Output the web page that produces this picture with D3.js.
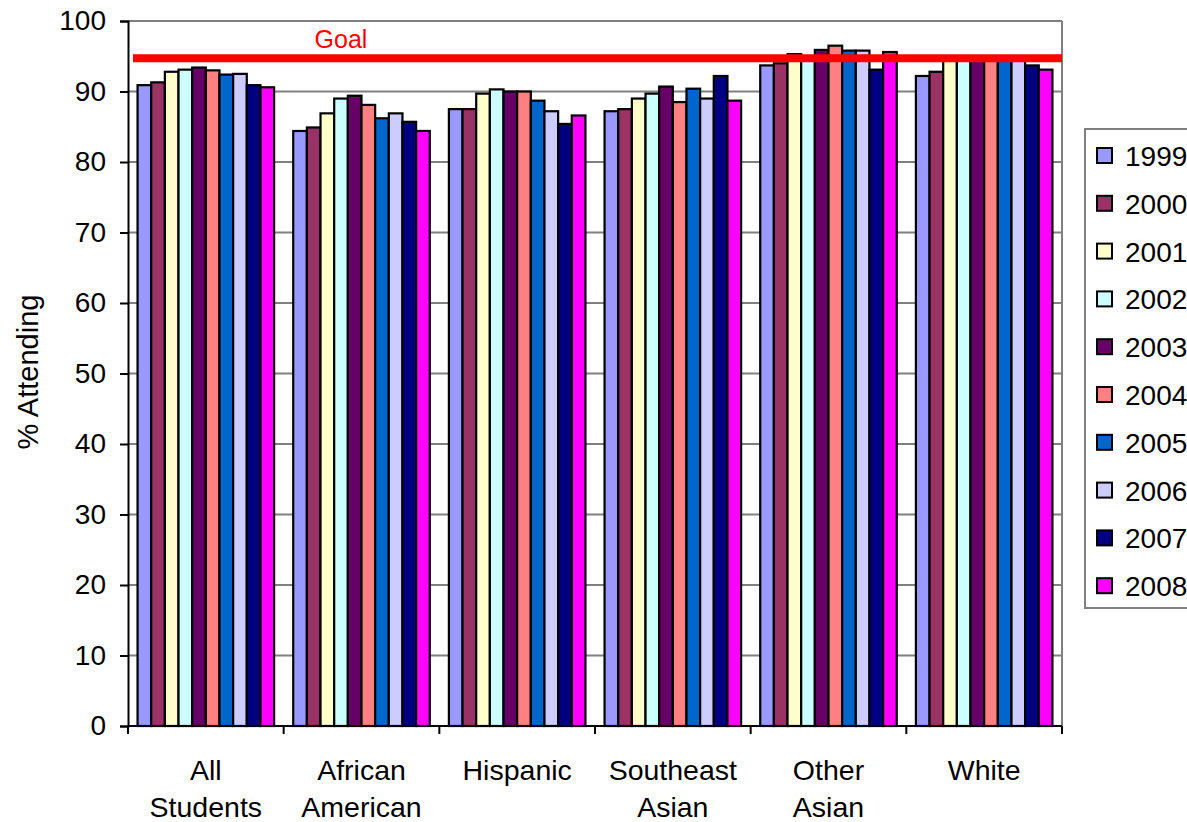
<!DOCTYPE html>
<html>
<head>
<meta charset="utf-8">
<script src="https://cdn.jsdelivr.net/npm/d3@7"></script>
<style>
    body { margin: 0; background: #fff; }
    svg { display: block; font-family: "Liberation Sans", Arial, sans-serif; }
</style>
</head>
<body>
<svg id="chart" width="1187" height="822"></svg>
<script>
// Chart data
const groups = [['All', 'Students'], ['African', 'American'], ['Hispanic'], ['Southeast', 'Asian'], ['Other', 'Asian'], ['White']];
const years = ['1999', '2000', '2001', '2002', '2003', '2004', '2005', '2006', '2007', '2008'];
const colors = ['#9999FF', '#993366', '#FFFFCC', '#CCFFFF', '#660066', '#FF8080', '#0066CC', '#CCCCFF', '#000080', '#FF00FF'];

// one row per group, one value per year
const allStudents     = [90.9, 91.3, 92.8, 93.1, 93.4, 93.0, 92.4, 92.5, 90.9, 90.6];
const africanAmerican = [84.4, 84.9, 86.9, 89.0, 89.4, 88.1, 86.2, 86.9, 85.7, 84.4];
const hispanic        = [87.5, 87.5, 89.7, 90.3, 90.0, 90.0, 88.7, 87.2, 85.4, 86.6];
const southeastAsian  = [87.2, 87.5, 89.0, 89.7, 90.7, 88.5, 90.4, 89.0, 92.2, 88.7];
const otherAsian      = [93.7, 94.0, 95.3, 95.0, 95.9, 96.5, 95.8, 95.8, 93.1, 95.6];
const white           = [92.2, 92.8, 95.0, 95.0, 95.0, 95.0, 95.0, 95.0, 93.7, 93.1];
const values = [allStudents, africanAmerican, hispanic, southeastAsian, otherAsian, white];

const goal = 94.7;
const yTicks = [0, 10, 20, 30, 40, 50, 60, 70, 80, 90, 100];

const svg = d3.select('#chart');
const plot = { left: 128, right: 1062, top: 21, bottom: 726 };

const x0 = d3.scaleBand()
    .domain(d3.range(groups.length))
    .range([plot.left, plot.right])
    .padding(0);

const x1 = d3.scaleBand()
    .domain(years)
    .range([0, x0.bandwidth()])
    .paddingInner(0)
    .paddingOuter(0.7);

const y = d3.scaleLinear()
    .domain([0, 100])
    .range([plot.bottom, plot.top]);

// Gridlines
svg.append('g')
    .selectAll('line')
    .data(yTicks.filter(t => t > 0))
    .join('line')
    .attr('x1', plot.left)
    .attr('x2', plot.right)
    .attr('y1', d => y(d))
    .attr('y2', d => y(d))
    .attr('stroke', '#808080')
    .attr('stroke-width', 2);

// right border of plot area
svg.append('line')
    .attr('x1', plot.right).attr('x2', plot.right)
    .attr('y1', plot.top).attr('y2', plot.bottom)
    .attr('stroke', '#808080')
    .attr('stroke-width', 2);

// Bars
const barGroups = svg.append('g')
    .selectAll('g')
    .data(values)
    .join('g')
    .attr('transform', (d, i) => `translate(${x0(i)},0)`);

barGroups.selectAll('rect')
    .data(d => d.map((v, j) => ({ year: years[j], value: v, color: colors[j] })))
    .join('rect')
    .attr('x', d => x1(d.year))
    .attr('y', d => y(d.value))
    .attr('width', x1.bandwidth())
    .attr('height', d => y(0) - y(d.value))
    .attr('fill', d => d.color)
    .attr('stroke', '#000')
    .attr('stroke-width', 2.2);

// Goal line
svg.append('line')
    .attr('x1', plot.left + 5)
    .attr('x2', plot.right)
    .attr('y1', y(goal))
    .attr('y2', y(goal))
    .attr('stroke', '#FF0000')
    .attr('stroke-width', 8);

svg.append('text')
    .attr('x', 341)
    .attr('y', 48)
    .attr('text-anchor', 'middle')
    .attr('fill', '#FF0000')
    .attr('font-size', 25)
    .text('Goal');

// Y axis
const yAxis = svg.append('g')
    .attr('transform', `translate(${plot.left},0)`)
    .call(d3.axisLeft(y).tickValues(yTicks).tickSize(8).tickPadding(14));
yAxis.select('.domain').attr('stroke', '#000').attr('stroke-width', 2);
yAxis.selectAll('.tick line').attr('stroke', '#000').attr('stroke-width', 2);
yAxis.selectAll('.tick text')
    .attr('font-size', 28)
    .attr('font-family', '"Liberation Sans", Arial, sans-serif')
    .attr('fill', '#000');

// X axis
const xAxisG = svg.append('g');
xAxisG.append('line')
    .attr('x1', plot.left).attr('x2', plot.right)
    .attr('y1', plot.bottom).attr('y2', plot.bottom)
    .attr('stroke', '#000').attr('stroke-width', 2);
xAxisG.selectAll('line.tick')
    .data(d3.range(groups.length + 1))
    .join('line')
    .attr('class', 'tick')
    .attr('x1', i => plot.left + i * x0.bandwidth())
    .attr('x2', i => plot.left + i * x0.bandwidth())
    .attr('y1', plot.bottom)
    .attr('y2', plot.bottom + 8)
    .attr('stroke', '#000').attr('stroke-width', 2);

xAxisG.selectAll('text')
    .data(groups)
    .join('text')
    .attr('x', (d, i) => x0(i) + x0.bandwidth() / 2)
    .attr('y', 780)
    .attr('text-anchor', 'middle')
    .attr('font-size', 28.5)
    .attr('fill', '#000')
    .selectAll('tspan')
    .data(d => d)
    .join('tspan')
    .attr('x', function () { return this.parentNode.getAttribute('x'); })
    .attr('dy', (d, i) => i === 0 ? 0 : 37)
    .text(d => d);

// Y axis title
svg.append('text')
    .attr('transform', 'translate(38,372) rotate(-90)')
    .attr('text-anchor', 'middle')
    .attr('font-size', 29)
    .attr('fill', '#000')
    .text('% Attending');

// Legend
const legend = svg.append('g');
legend.append('rect')
    .attr('x', 1085)
    .attr('y', 129)
    .attr('width', 140)
    .attr('height', 479)
    .attr('fill', '#fff')
    .attr('stroke', '#808080')
    .attr('stroke-width', 2);

const items = legend.selectAll('g.item')
    .data(years)
    .join('g')
    .attr('class', 'item')
    .attr('transform', (d, i) => `translate(1097,${156 + i * 47.8})`);

items.append('rect')
    .attr('x', 0)
    .attr('y', -8)
    .attr('width', 15)
    .attr('height', 15)
    .attr('fill', (d, i) => colors[i])
    .attr('stroke', '#000')
    .attr('stroke-width', 2);

items.append('text')
    .attr('x', 28)
    .attr('y', 10)
    .attr('font-size', 28)
    .attr('fill', '#000')
    .text(d => d);
</script>
</body>
</html>
